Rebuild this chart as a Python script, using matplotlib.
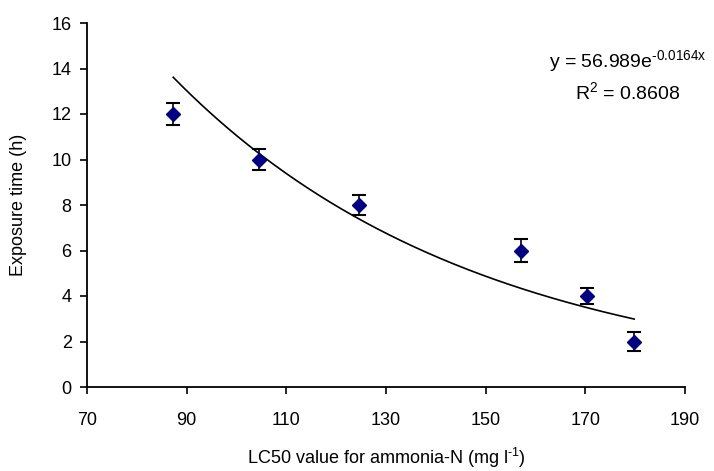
import numpy as np
import matplotlib
matplotlib.use("Agg")
import matplotlib.pyplot as plt

plt.rcParams['font.family'] = ['Liberation Sans', 'DejaVu Sans']
plt.rcParams['mathtext.fontset'] = 'custom'
plt.rcParams['mathtext.rm'] = 'Liberation Sans'

# Data
lc50 = [87.3, 104.5, 124.6, 157.1, 170.3, 179.8]
exposure_h = [12, 10, 8, 6, 4, 2]
err_h = [0.5, 0.47, 0.44, 0.5, 0.33, 0.4]

# Exponential trendline coefficients (as printed on chart)
fit_a = 56.989
fit_b = -0.0164
r2 = 0.8608

xticks = [70, 90, 110, 130, 150, 170, 190]
yticks = [0, 2, 4, 6, 8, 10, 12, 14, 16]

fig = plt.figure(figsize=(7.14, 4.71), dpi=100)
ax = fig.add_axes([87/714, 1-387/471, (685-87)/714, (387-23)/471])

xs = np.linspace(min(lc50), max(lc50), 200)
ax.plot(xs, fit_a*np.exp(fit_b*xs), color='black', lw=1.2, zorder=2)

ax.errorbar(lc50, exposure_h, yerr=err_h, fmt='D', color='#000080', ms=7.5,
            mec='#000080', ecolor='black', elinewidth=1.2, capsize=5,
            capthick=1.5, zorder=3)

ax.set_xlim(70, 190)
ax.set_ylim(0, 16)
ax.set_xticks(xticks)
ax.set_yticks(yticks)
ax.tick_params(axis='both', labelsize=13, direction='out', length=5, width=1.2,
               color='black')
ax.tick_params(axis='x', pad=13)
ax.tick_params(axis='y', pad=6)
for s in ['top', 'right']:
    ax.spines[s].set_visible(False)
for s in ['left', 'bottom']:
    ax.spines[s].set_linewidth(1.3)

hy = '\u2010'
ax.set_xlabel('LC50 value for ammonia-N (mg l$^{\\mathregular{%s1}}$)' % hy,
              fontsize=13, labelpad=12)
ax.set_ylabel('Exposure time (h)', fontsize=13, labelpad=18)

fig.text(628/714, 1-62/471, 'y = %.3fe$^{\\mathregular{%s%.4fx}}$' % (fit_a, hy, abs(fit_b)),
         ha='center', va='center', fontsize=14)
fig.text(628/714, 1-93/471, 'R$^{\\mathregular{2}}$ = %.4f' % r2,
         ha='center', va='center', fontsize=14)

fig.savefig('out.png', dpi=100)
